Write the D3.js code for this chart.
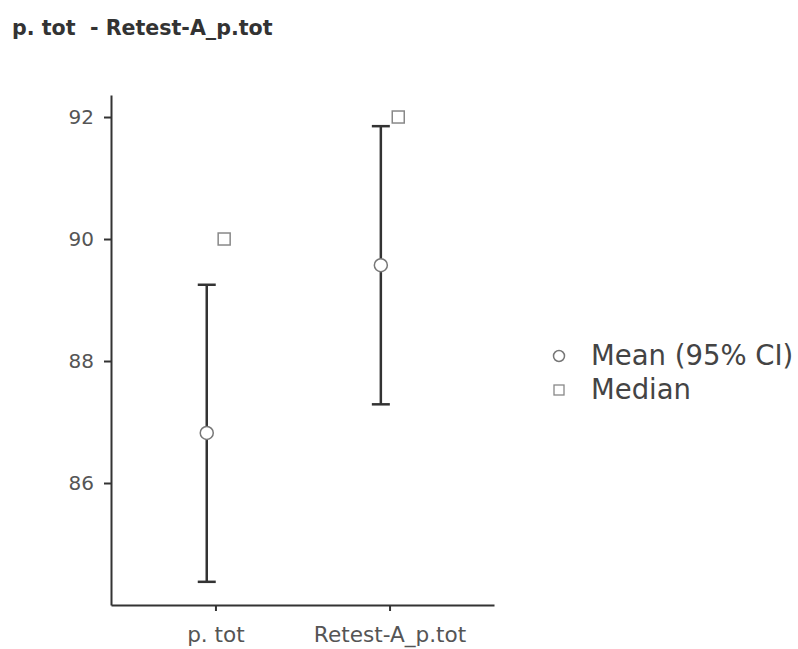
<!DOCTYPE html>
<html><head><meta charset="utf-8">
<script src="https://cdn.jsdelivr.net/npm/d3@7"></script>
<style>body{margin:0;background:#fff;} svg{display:block;}</style>
</head><body>
<svg id="chart" width="798" height="649"></svg>
<script>
const categories = ["p. tot", "Retest-A_p.tot"];
const means = [86.82, 89.57];
const ciLower = [84.38, 87.29];
const ciUpper = [89.25, 91.85];
const medians = [90, 92];
const yTicks = [86, 88, 90, 92];
const legendLabels = ["Mean (95% CI)", "Median"];
const title = "p. tot  - Retest-A_p.tot";

const svg = d3.select("#chart");
const font = "'DejaVu Sans', Verdana, sans-serif";

const x = d3.scaleLinear().domain([0.4, 2.6]).range([111, 494]);
const y = d3.scaleLinear().domain([84, 92.361]).range([605, 95]);
const dodge = 0.05;

svg.append("text").attr("x", 12).attr("y", 35).text(title)
  .style("white-space", "pre").attr("xml:space", "preserve")
  .attr("font-family", font).attr("font-weight", 700)
  .attr("font-size", 20.6).attr("fill", "#333");

// y axis
const yAxis = svg.append("g").attr("transform", `translate(${x.range()[0]},0)`)
  .call(d3.axisLeft(y).tickValues(yTicks).tickSize(7).tickPadding(10).tickSizeOuter(0));
// x axis
const xAxis = svg.append("g").attr("transform", `translate(0,${y.range()[0]})`)
  .call(d3.axisBottom(x).tickValues([1, 2]).tickFormat((d) => categories[d - 1]).tickSize(6).tickPadding(16).tickSizeOuter(0));
[yAxis, xAxis].forEach(g => {
  g.select(".domain").attr("stroke", "#333").attr("stroke-width", 2);
  g.selectAll(".tick line").attr("stroke", "#333").attr("stroke-width", 2);
  g.selectAll(".tick text").attr("fill", "#555").attr("font-family", font);
});
yAxis.selectAll(".tick text").attr("font-size", 20);
xAxis.selectAll(".tick text").attr("font-size", 21.6);

const data = categories.map((c, i) => ({c, i: i + 1, m: means[i], lo: ciLower[i], hi: ciUpper[i], med: medians[i]}));
const capW = 9;
const g = svg.append("g");
data.forEach(d => {
  const cx = x(d.i - dodge);
  g.append("line").attr("x1", cx).attr("x2", cx).attr("y1", y(d.lo)).attr("y2", y(d.hi))
    .attr("stroke", "#333").attr("stroke-width", 2.5);
  [d.lo, d.hi].forEach(v => g.append("line").attr("x1", cx - capW).attr("x2", cx + capW)
    .attr("y1", y(v)).attr("y2", y(v)).attr("stroke", "#333").attr("stroke-width", 2.5));
  g.append("circle").attr("cx", cx).attr("cy", y(d.m)).attr("r", 6.5)
    .attr("fill", "#fff").attr("stroke", "#777").attr("stroke-width", 1.5);
  const mx = x(d.i + dodge);
  g.append("rect").attr("x", mx - 6).attr("y", y(d.med) - 6).attr("width", 12).attr("height", 12)
    .attr("fill", "#fff").attr("stroke", "#888").attr("stroke-width", 1.5);
});

// legend
const lg = svg.append("g");
lg.append("circle").attr("cx", 559).attr("cy", 356).attr("r", 5.5)
  .attr("fill", "#fff").attr("stroke", "#777").attr("stroke-width", 1.5);
lg.append("rect").attr("x", 554).attr("y", 385).attr("width", 10).attr("height", 10)
  .attr("fill", "#fff").attr("stroke", "#888").attr("stroke-width", 1.3);
legendLabels.forEach((t, i) => lg.append("text").attr("x", 591).attr("y", 365 + i * 34).text(t)
  .attr("font-family", font).attr("font-size", 27.5).attr("fill", "#444"));
</script>
</body></html>
